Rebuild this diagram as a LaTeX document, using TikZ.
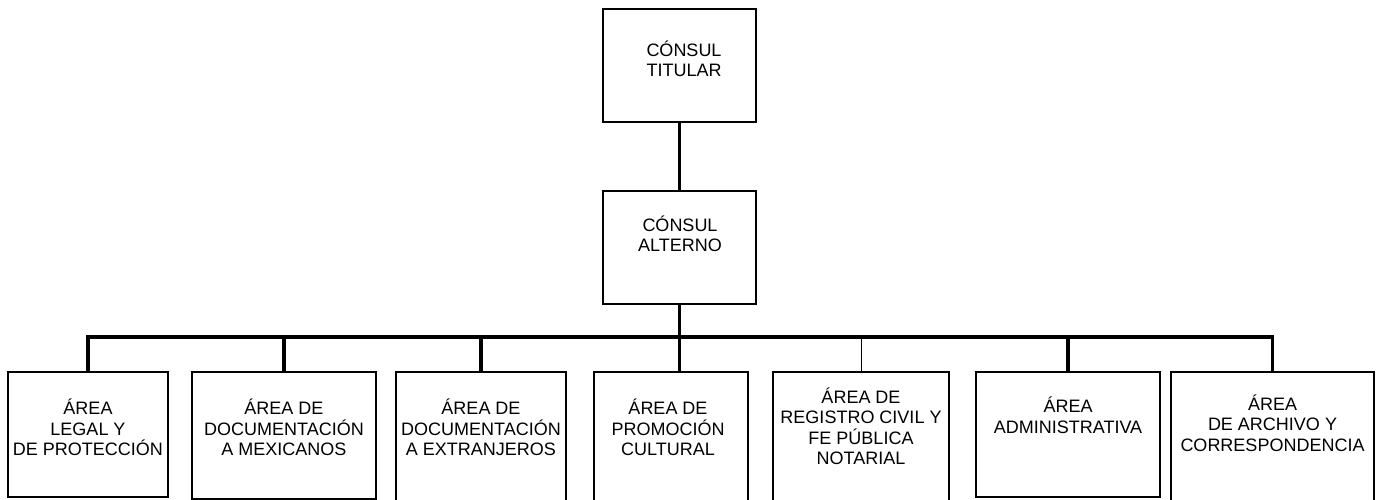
\documentclass[tikz,border=0pt]{standalone}
\usepackage{fontspec}
\setmainfont{Liberation Sans}
\usepackage{tikz}
\tikzset{
  box/.style={draw=black, line width=1.2pt, rectangle, inner sep=0pt},
  conn/.style={draw=black, line width=3.5pt, line join=miter},
  thin/.style={draw=black, line width=1pt},
  lab/.style={align=center, inner sep=0pt, font=\fontsize{18}{20.5}\selectfont},
}
\begin{document}
\begin{tikzpicture}[x=1pt,y=-1pt]
  \useasboundingbox (0,0) rectangle (1376,500);
  \coordinate (bus) at (0,337);
  \node[box,minimum width=153,minimum height=113] (titular) at (679.5,65.5) {};
  \node[box,minimum width=153,minimum height=113] (alterno) at (679.5,247.5) {};
  \node[box,minimum width=160,minimum height=125] (legal) at (88,434.5) {};
  \node[box,minimum width=184,minimum height=127] (mexicanos) at (284,435.5) {};
  \node[box,minimum width=170,minimum height=140] (extranjeros) at (481,442) {};
  \node[box,minimum width=154,minimum height=140] (cultural) at (671,442) {};
  \node[box,minimum width=176,minimum height=140] (registro) at (861,442) {};
  \node[box,minimum width=184,minimum height=125] (admin) at (1068,434.5) {};
  \node[box,minimum width=203,minimum height=140] (archivo) at (1272.5,442) {};
  \node[lab] (titular-t) at (684,59) {CÓNSUL\\TITULAR};
  \node[lab] (alterno-t) at (680,234) {CÓNSUL\\ALTERNO};
  \node[lab] (legal-t) at (88,427.5) {ÁREA\\LEGAL Y\\DE PROTECCIÓN};
  \node[lab] (mexicanos-t) at (284,427.5) {ÁREA DE\\DOCUMENTACIÓN\\A MEXICANOS};
  \node[lab] (extranjeros-t) at (481,427.5) {ÁREA DE\\DOCUMENTACIÓN\\A EXTRANJEROS};
  \node[lab] (cultural-t) at (668,427.5) {ÁREA DE\\PROMOCIÓN\\CULTURAL};
  \node[lab] (registro-t) at (861,426.5) {ÁREA DE\\REGISTRO CIVIL Y\\FE PÚBLICA\\NOTARIAL};
  \node[lab] (admin-t) at (1068,415.5) {ÁREA\\ADMINISTRATIVA};
  \node[lab] (archivo-t) at (1272.5,423) {ÁREA\\DE ARCHIVO Y\\CORRESPONDENCIA};
  \draw[conn] (titular.south) -- (alterno.north);
  \draw[conn] (alterno.south) -- (cultural.north -| alterno.south);
  \draw[conn] (legal.north) -- (legal.north |- bus) -- (archivo.north |- bus) -- (archivo.north);
  \draw[conn] (mexicanos.north |- bus) -- (mexicanos.north);
  \draw[conn] (extranjeros.north |- bus) -- (extranjeros.north);
  \draw[thin] (registro.north |- bus) -- (registro.north);
  \draw[conn] (admin.north |- bus) -- (admin.north);
\end{tikzpicture}
\end{document}
